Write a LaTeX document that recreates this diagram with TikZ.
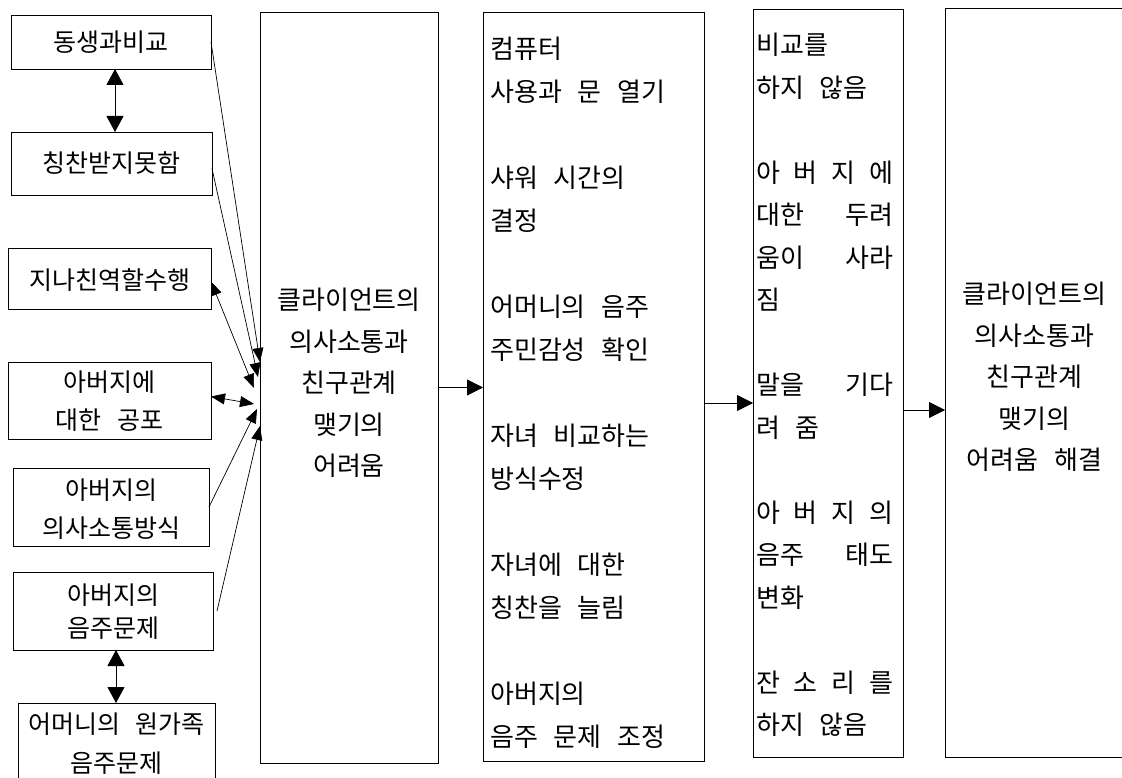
\documentclass[tikz,border=0pt]{standalone}
\usepackage{fontspec}
\setmainfont{Noto Sans CJK KR}[WordSpace=2.7]
\usetikzlibrary{arrows.meta,calc}
\begin{document}
\begin{tikzpicture}[x=1pt,y=-1pt,
  bx/.style={draw, line width=0.9pt, inner sep=0pt, outer sep=0pt},
  tl/.style={anchor=base, inner sep=0pt, font=\fontsize{25}{25}\selectfont},
  tb/.style={anchor=base, inner sep=0pt, font=\fontsize{26}{26}\selectfont},
  tbl/.style={tb, anchor=base west},
  arr/.style={-{Triangle[length=14pt,width=11pt]}, line width=0.7pt},
  darr/.style={{Triangle[length=14pt,width=11pt]}-{Triangle[length=14pt,width=11pt]}, line width=0.7pt},
  vdarr/.style={{Triangle[length=16pt,width=17pt]}-{Triangle[length=16pt,width=17pt]}, line width=0.8pt},
  harr/.style={-{Triangle[length=16pt,width=16pt]}, line width=0.8pt}]
\useasboundingbox (0,0) rectangle (1122,778);
\fill[white] (0,0) rectangle (1122,778);

% left boxes
\node[bx, minimum width=200pt, minimum height=54pt] (b1) at (111,42) {};
\node[bx, minimum width=201pt, minimum height=63pt] (b2) at (111.5,163.5) {};
\node[bx, minimum width=203pt, minimum height=61pt] (b3) at (109.5,278.5) {};
\node[bx, minimum width=203pt, minimum height=77pt] (b4) at (109.5,400.5) {};
\node[bx, minimum width=196pt, minimum height=78pt] (b5) at (111,507) {};
\node[bx, minimum width=200pt, minimum height=78pt] (b6) at (113,611) {};
\node[bx, minimum width=197pt, minimum height=90pt] (b7) at (116.5,748) {};

\node[tl] (t1) at (111,51.25) {동생과비교};
\node[tl] (t2) at (111.5,172.25) {칭찬받지못함};
\node[tl] (t3) at (109.5,289.25) {지나친역할수행};
\node[tl] (t4a) at (109.5,391.25) {아버지에};
\node[tl] (t4b) at (109.5,429.25) {대한 공포};
\node[tl] (t5a) at (111,499.25) {아버지의};
\node[tl] (t5b) at (111,537.25) {의사소통방식};
\node[tl] (t6a) at (113,604.25) {아버지의};
\node[tl] (t6b) at (113,637.25) {음주문제};
\node[tl] (t7a) at (116.5,733.25) {어머니의 원가족};
\node[tl] (t7b) at (116.5,772.25) {음주문제};

% big boxes
\node[bx, minimum width=178pt, minimum height=751pt] (B1) at (349,387.5) {};
\node[bx, minimum width=221pt, minimum height=749pt] (B2) at (593.5,386.5) {};
\node[bx, minimum width=150pt, minimum height=748pt] (B3) at (828,383) {};
\node[bx, minimum width=179pt, minimum height=749pt] (B4) at (1034.5,382.5) {};

% B1 text
\node[tb] (u1) at (349,309.6) {클라이언트의};
\node[tb] (u2) at (349,351.6) {의사소통과};
\node[tb] (u3) at (349,392.6) {친구관계};
\node[tb] (u4) at (349,434.6) {맺기의};
\node[tb] (u5) at (349,475.6) {어려움};

% B4 text
\node[tb] (w1) at (1034.5,303.6) {클라이언트의};
\node[tb] (w2) at (1034.5,345.1) {의사소통과};
\node[tb] (w3) at (1034.5,386.6) {친구관계};
\node[tb] (w4) at (1034.5,428.1) {맺기의};
\node[tb] (w5) at (1034.5,469.6) {어려움 해결};

% B2 text
\node[tbl] (v1) at (490,58.6) {컴퓨터};
\node[tbl] (v2) at (490,101.6) {사용과 문 열기};
\node[tbl] (v3) at (490,187.6) {샤워 시간의};
\node[tbl] (v4) at (490,230.6) {결정};
\node[tbl] (v5) at (490,316.6) {어머니의 음주};
\node[tbl] (v6) at (490,359.6) {주민감성 확인};
\node[tbl] (v7) at (490,445.6) {자녀 비교하는};
\node[tbl] (v8) at (490,488.6) {방식수정};
\node[tbl] (v9) at (490,574.6) {자녀에 대한};
\node[tbl] (v10) at (490,617.6) {칭찬을 늘림};
\node[tbl] (v11) at (490,703.6) {아버지의};
\node[tbl] (v12) at (490,746.6) {음주 문제 조정};

% B3 text
\node[tbl] (s1) at (756,54.6) {비교를};
\node[tbl] (s2) at (756,97.1) {하지 않음};
\node[tbl] (s3) at (756,182.1) {\makebox[137pt][s]{아 버 지 에}};
\node[tbl] (s4) at (756,224.6) {\makebox[137pt][s]{대한 두려}};
\node[tbl] (s5) at (756,267.1) {\makebox[137pt][s]{움이 사라}};
\node[tbl] (s6) at (756,309.6) {짐};
\node[tbl] (s7) at (756,394.6) {\makebox[137pt][s]{말을 기다}};
\node[tbl] (s8) at (756,437.1) {려 줌};
\node[tbl] (s9) at (756,522.1) {\makebox[137pt][s]{아 버 지 의}};
\node[tbl] (s10) at (756,564.6) {\makebox[137pt][s]{음주 태도}};
\node[tbl] (s11) at (756,607.1) {변화};
\node[tbl] (s12) at (756,692.1) {\makebox[137pt][s]{잔 소 리 를}};
\node[tbl] (s13) at (756,734.6) {하지 않음};

% arrow end points on B1
\coordinate (q1) at (260,362);
\coordinate (q2) at (258,377);
\coordinate (q3) at (254,388);
\coordinate (q4) at (254,404);
\coordinate (q5) at (257,409);
\coordinate (q6) at (260,426);

\draw[arr] (b1.east) -- (q1);
\draw[arr] ([yshift=-5pt]b2.east) -- (q2);
\draw[darr] ([yshift=-3pt]b3.east) -- (q3);
\draw[darr] ([yshift=4pt]b4.east) -- (q4);
\draw[arr] (b5.east) -- (q5);
\draw[arr] ([xshift=4pt]b6.east) -- (q6);

\draw[vdarr] ([xshift=4pt]b1.south) -- ([xshift=4pt]b1.south |- b2.north);
\draw[vdarr] ([xshift=3pt]b6.south) -- ([xshift=3pt]b6.south |- b7.north);

\draw[harr] (B1.east) -- (B1.east -| B2.west);
\draw[harr] ([yshift=-16.5pt]B2.east) -- ([yshift=-16.5pt]B2.east -| B3.west);
\draw[harr] ([yshift=-27pt]B3.east) -- ([yshift=-27pt]B3.east -| B4.west);
\end{tikzpicture}
\end{document}
